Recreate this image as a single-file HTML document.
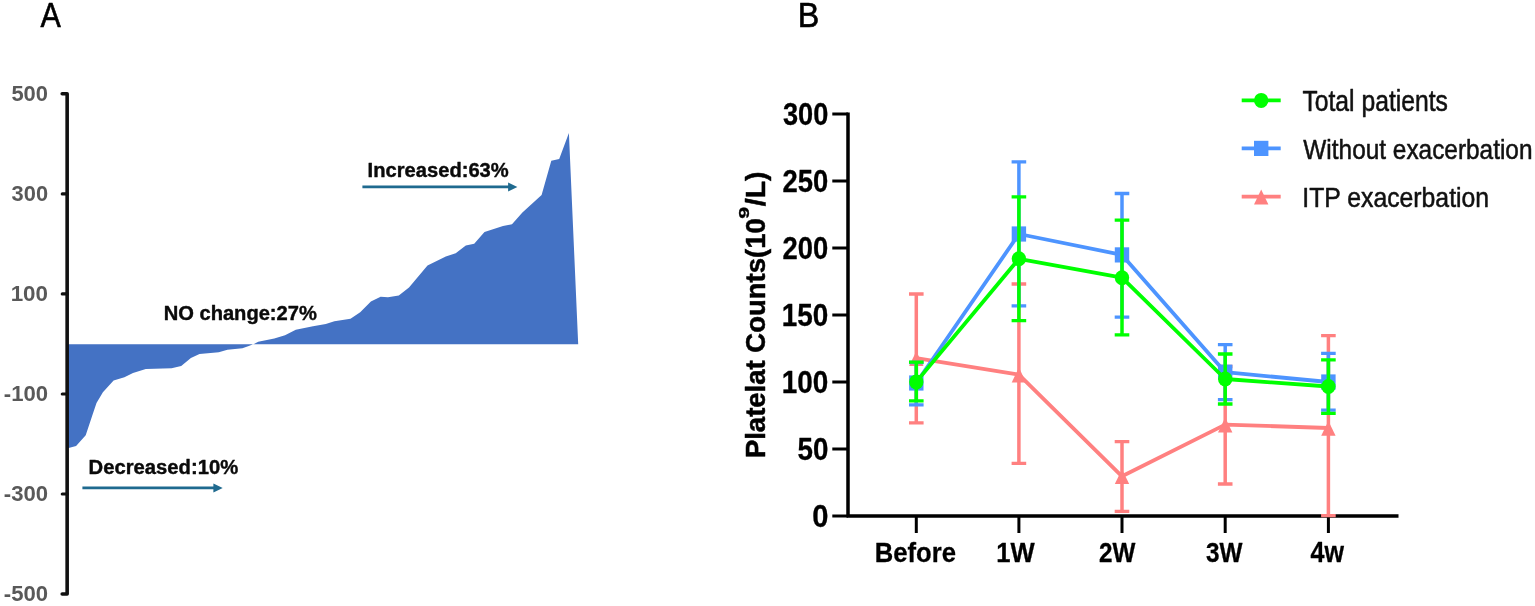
<!DOCTYPE html>
<html><head><meta charset="utf-8"><title>Figure</title>
<style>
html,body{margin:0;padding:0;background:#fff;}
svg{display:block;filter:blur(0.5px);}
text{font-family:"Liberation Sans",sans-serif;}
</style></head>
<body>
<svg width="1535" height="606" viewBox="0 0 1535 606">
<rect width="1535" height="606" fill="#ffffff"/>
<g id="panelA">
<path d="M67.0,344.2 L67.0,448.3 L68.6,448.0 L76.1,445.9 L85.7,435.2 L92.2,415.8 L96.5,403.0 L102.9,392.2 L113.6,380.4 L124.4,377.2 L133.0,372.9 L145.8,369.0 L171.6,368.2 L181.2,366.0 L190.9,357.9 L199.5,354.0 L218.8,352.3 L227.4,349.7 L242.4,348.2 L248.8,346.1 L253.0,344.2 L254.0,344.0 L258.2,341.8 L274.3,338.4 L285.0,335.2 L295.8,329.8 L313.0,326.2 L325.8,324.0 L334.4,321.2 L350.5,318.7 L360.2,312.2 L370.9,301.5 L380.6,296.8 L388.0,297.2 L398.8,295.5 L409.0,287.5 L427.5,265.4 L445.8,256.4 L455.7,253.2 L465.8,245.6 L474.2,243.8 L484.5,232.0 L503.0,226.1 L512.0,224.2 L522.4,212.4 L541.6,195.1 L551.3,160.8 L559.2,159.0 L568.9,132.9 L578.2,344.2 L67.0,344.2Z" fill="#4472c4"/>
<path d="M62.2,93.8 L67.15,93.8 L67.15,594.0 L62.2,594.0" fill="none" stroke="#111" stroke-width="3.6" stroke-linejoin="round" stroke-linecap="round"/>
<line x1="62.3" y1="193.9" x2="67.15" y2="193.9" stroke="#111" stroke-width="3.2" stroke-linecap="round"/>
<line x1="62.3" y1="293.9" x2="67.15" y2="293.9" stroke="#111" stroke-width="3.2" stroke-linecap="round"/>
<line x1="62.3" y1="394.0" x2="67.15" y2="394.0" stroke="#111" stroke-width="3.2" stroke-linecap="round"/>
<line x1="62.3" y1="494.0" x2="67.15" y2="494.0" stroke="#111" stroke-width="3.2" stroke-linecap="round"/>
<text transform="matrix(0.2196,0,0,0.2246,11.39,101.02)" font-size="100" font-weight="bold" fill="#595959">500</text>
<text transform="matrix(0.2186,0,0,0.2246,11.57,201.13)" font-size="100" font-weight="bold" fill="#595959">300</text>
<text transform="matrix(0.2241,0,0,0.2246,10.66,301.12)" font-size="100" font-weight="bold" fill="#595959">100</text>
<text transform="matrix(0.2211,0,0,0.2246,3.79,401.23)" font-size="100" font-weight="bold" fill="#595959">-100</text>
<text transform="matrix(0.2211,0,0,0.2246,3.79,501.23)" font-size="100" font-weight="bold" fill="#595959">-300</text>
<text transform="matrix(0.2211,0,0,0.2246,3.79,601.22)" font-size="100" font-weight="bold" fill="#595959">-500</text>
<text transform="matrix(0.2013,0,0,0.1948,163.67,320.10)" font-size="100" font-weight="bold" fill="#0a0a0a" stroke="#0a0a0a" stroke-width="2.02" stroke-linejoin="round">NO change:27%</text>
<text transform="matrix(0.2017,0,0,0.2020,367.57,177.30)" font-size="100" font-weight="bold" fill="#0a0a0a" stroke="#0a0a0a" stroke-width="1.98" stroke-linejoin="round">Increased:63%</text>
<text transform="matrix(0.2024,0,0,0.1933,88.56,474.40)" font-size="100" font-weight="bold" fill="#0a0a0a" stroke="#0a0a0a" stroke-width="2.02" stroke-linejoin="round">Decreased:10%</text>
<line x1="362.4" y1="186.9" x2="511.4" y2="186.9" stroke="#1f6a8f" stroke-width="2.6"/><path d="M508.09999999999997,182.4 L517.4,186.9 L508.09999999999997,191.4Z" fill="#1f6a8f"/>
<line x1="82.4" y1="487.9" x2="216.7" y2="487.9" stroke="#1f6a8f" stroke-width="2.6"/><path d="M213.39999999999998,483.4 L222.7,487.9 L213.39999999999998,492.4Z" fill="#1f6a8f"/>
<text transform="matrix(0.3047,0,0,0.3488,40.54,26.80)" font-size="100" font-weight="normal" fill="#000" stroke="#000" stroke-width="1.84" stroke-linejoin="round">A</text>
</g>
<g id="panelB">
<path d="M848.0,112.5 L848.0,516.0 M846.5,516.0 L1398.5,516.0" stroke="#000" stroke-width="3.5" fill="none"/>
<line x1="832.3" y1="516.0" x2="848.0" y2="516.0" stroke="#000" stroke-width="3"/>
<text transform="matrix(0.2914,0,0,0.3159,812.21,526.90)" font-size="100" font-weight="bold" fill="#000" stroke="#000" stroke-width="0.99" stroke-linejoin="round">0</text>
<line x1="832.3" y1="449.0" x2="848.0" y2="449.0" stroke="#000" stroke-width="3"/>
<text transform="matrix(0.2774,0,0,0.3159,797.52,459.90)" font-size="100" font-weight="bold" fill="#000" stroke="#000" stroke-width="1.01" stroke-linejoin="round">50</text>
<line x1="832.3" y1="382.0" x2="848.0" y2="382.0" stroke="#000" stroke-width="3"/>
<text transform="matrix(0.2791,0,0,0.3159,781.82,392.90)" font-size="100" font-weight="bold" fill="#000" stroke="#000" stroke-width="1.01" stroke-linejoin="round">100</text>
<line x1="832.3" y1="315.0" x2="848.0" y2="315.0" stroke="#000" stroke-width="3"/>
<text transform="matrix(0.2791,0,0,0.3159,781.82,325.90)" font-size="100" font-weight="bold" fill="#000" stroke="#000" stroke-width="1.01" stroke-linejoin="round">150</text>
<line x1="832.3" y1="248.0" x2="848.0" y2="248.0" stroke="#000" stroke-width="3"/>
<text transform="matrix(0.2742,0,0,0.3159,782.62,258.90)" font-size="100" font-weight="bold" fill="#000" stroke="#000" stroke-width="1.02" stroke-linejoin="round">200</text>
<line x1="832.3" y1="181.0" x2="848.0" y2="181.0" stroke="#000" stroke-width="3"/>
<text transform="matrix(0.2742,0,0,0.3159,782.62,191.90)" font-size="100" font-weight="bold" fill="#000" stroke="#000" stroke-width="1.02" stroke-linejoin="round">250</text>
<line x1="832.3" y1="114.0" x2="848.0" y2="114.0" stroke="#000" stroke-width="3"/>
<text transform="matrix(0.2721,0,0,0.3159,782.95,124.90)" font-size="100" font-weight="bold" fill="#000" stroke="#000" stroke-width="1.02" stroke-linejoin="round">300</text>
<line x1="916.3" y1="516.0" x2="916.3" y2="533" stroke="#000" stroke-width="3"/>
<text transform="matrix(0.2560,0,0,0.2856,874.86,562.40)" font-size="100" font-weight="bold" fill="#000" stroke="#000" stroke-width="1.11" stroke-linejoin="round">Before</text>
<line x1="1018.9" y1="516.0" x2="1018.9" y2="533" stroke="#000" stroke-width="3"/>
<text transform="matrix(0.2561,0,0,0.2856,996.16,562.40)" font-size="100" font-weight="bold" fill="#000" stroke="#000" stroke-width="1.11" stroke-linejoin="round">1W</text>
<line x1="1122.0" y1="516.0" x2="1122.0" y2="533" stroke="#000" stroke-width="3"/>
<text transform="matrix(0.2423,0,0,0.2815,1099.03,562.40)" font-size="100" font-weight="bold" fill="#000" stroke="#000" stroke-width="1.15" stroke-linejoin="round">2W</text>
<line x1="1225.2" y1="516.0" x2="1225.2" y2="533" stroke="#000" stroke-width="3"/>
<text transform="matrix(0.2431,0,0,0.2815,1206.02,562.40)" font-size="100" font-weight="bold" fill="#000" stroke="#000" stroke-width="1.14" stroke-linejoin="round">3W</text>
<line x1="1328.4" y1="516.0" x2="1328.4" y2="533" stroke="#000" stroke-width="3"/>
<text transform="matrix(0.2506,0,0,0.2856,1310.57,562.40)" font-size="100" font-weight="bold" fill="#000" stroke="#000" stroke-width="1.12" stroke-linejoin="round">4w</text>
<path d="M916.3,294.0 L916.3,422.8" stroke="#ff8080" stroke-width="3.5" fill="none"/><path d="M909.0,294.0 L923.5999999999999,294.0 M909.0,422.8 L923.5999999999999,422.8" stroke="#ff8080" stroke-width="3.3" fill="none"/>
<path d="M1018.9,284.0 L1018.9,463.4" stroke="#ff8080" stroke-width="3.5" fill="none"/><path d="M1011.6,284.0 L1026.2,284.0 M1011.6,463.4 L1026.2,463.4" stroke="#ff8080" stroke-width="3.3" fill="none"/>
<path d="M1122.0,441.6 L1122.0,511.4" stroke="#ff8080" stroke-width="3.5" fill="none"/><path d="M1114.7,441.6 L1129.3,441.6 M1114.7,511.4 L1129.3,511.4" stroke="#ff8080" stroke-width="3.3" fill="none"/>
<path d="M1225.2,366.5 L1225.2,484.0" stroke="#ff8080" stroke-width="3.5" fill="none"/><path d="M1217.9,366.5 L1232.5,366.5 M1217.9,484.0 L1232.5,484.0" stroke="#ff8080" stroke-width="3.3" fill="none"/>
<path d="M1328.4,335.7 L1328.4,515.6" stroke="#ff8080" stroke-width="3.5" fill="none"/><path d="M1321.1000000000001,335.7 L1335.7,335.7 M1321.1000000000001,515.6 L1335.7,515.6" stroke="#ff8080" stroke-width="3.3" fill="none"/>
<polyline points="916.3,358.2 1018.9,374.6 1122.0,476.3 1225.2,424.6 1328.4,428.0" fill="none" stroke="#ff8080" stroke-width="3.8" stroke-linejoin="round"/>
<path d="M916.3,351.2 L923.5,366.0 L909.1,366.0Z" fill="#ff8080"/>
<path d="M1018.9,367.6 L1026.1,382.4 L1011.7,382.4Z" fill="#ff8080"/>
<path d="M1122.0,469.3 L1129.2,484.1 L1114.8,484.1Z" fill="#ff8080"/>
<path d="M1225.2,417.6 L1232.4,432.4 L1218.0,432.4Z" fill="#ff8080"/>
<path d="M1328.4,421.0 L1335.6,435.8 L1321.2,435.8Z" fill="#ff8080"/>
<path d="M916.3,362.5 L916.3,404.9" stroke="#4d94ff" stroke-width="3.5" fill="none"/><path d="M909.0,362.5 L923.5999999999999,362.5 M909.0,404.9 L923.5999999999999,404.9" stroke="#4d94ff" stroke-width="3.3" fill="none"/>
<path d="M1018.9,161.8 L1018.9,305.9" stroke="#4d94ff" stroke-width="3.5" fill="none"/><path d="M1011.6,161.8 L1026.2,161.8 M1011.6,305.9 L1026.2,305.9" stroke="#4d94ff" stroke-width="3.3" fill="none"/>
<path d="M1122.0,193.5 L1122.0,317.2" stroke="#4d94ff" stroke-width="3.5" fill="none"/><path d="M1114.7,193.5 L1129.3,193.5 M1114.7,317.2 L1129.3,317.2" stroke="#4d94ff" stroke-width="3.3" fill="none"/>
<path d="M1225.2,344.7 L1225.2,399.7" stroke="#4d94ff" stroke-width="3.5" fill="none"/><path d="M1217.9,344.7 L1232.5,344.7 M1217.9,399.7 L1232.5,399.7" stroke="#4d94ff" stroke-width="3.3" fill="none"/>
<path d="M1328.4,353.3 L1328.4,410.1" stroke="#4d94ff" stroke-width="3.5" fill="none"/><path d="M1321.1000000000001,353.3 L1335.7,353.3 M1321.1000000000001,410.1 L1335.7,410.1" stroke="#4d94ff" stroke-width="3.3" fill="none"/>
<polyline points="916.3,383.0 1018.9,234.0 1122.0,254.9 1225.2,372.2 1328.4,382.0" fill="none" stroke="#4d94ff" stroke-width="3.8" stroke-linejoin="round"/>
<rect x="909.1" y="375.4" width="14.4" height="15.2" fill="#4d94ff"/>
<rect x="1011.7" y="226.4" width="14.4" height="15.2" fill="#4d94ff"/>
<rect x="1114.8" y="247.3" width="14.4" height="15.2" fill="#4d94ff"/>
<rect x="1218.0" y="364.6" width="14.4" height="15.2" fill="#4d94ff"/>
<rect x="1321.2" y="374.4" width="14.4" height="15.2" fill="#4d94ff"/>
<path d="M916.3,362.1 L916.3,400.8" stroke="#00ff00" stroke-width="3.5" fill="none"/><path d="M909.0,362.1 L923.5999999999999,362.1 M909.0,400.8 L923.5999999999999,400.8" stroke="#00ff00" stroke-width="3.3" fill="none"/>
<path d="M1018.9,196.9 L1018.9,320.7" stroke="#00ff00" stroke-width="3.5" fill="none"/><path d="M1011.6,196.9 L1026.2,196.9 M1011.6,320.7 L1026.2,320.7" stroke="#00ff00" stroke-width="3.3" fill="none"/>
<path d="M1122.0,220.2 L1122.0,334.9" stroke="#00ff00" stroke-width="3.5" fill="none"/><path d="M1114.7,220.2 L1129.3,220.2 M1114.7,334.9 L1129.3,334.9" stroke="#00ff00" stroke-width="3.3" fill="none"/>
<path d="M1225.2,354.0 L1225.2,404.0" stroke="#00ff00" stroke-width="3.5" fill="none"/><path d="M1217.9,354.0 L1232.5,354.0 M1217.9,404.0 L1232.5,404.0" stroke="#00ff00" stroke-width="3.3" fill="none"/>
<path d="M1328.4,359.9 L1328.4,413.3" stroke="#00ff00" stroke-width="3.5" fill="none"/><path d="M1321.1000000000001,359.9 L1335.7,359.9 M1321.1000000000001,413.3 L1335.7,413.3" stroke="#00ff00" stroke-width="3.3" fill="none"/>
<polyline points="916.3,381.9 1018.9,258.8 1122.0,277.7 1225.2,379.0 1328.4,386.5" fill="none" stroke="#00ff00" stroke-width="3.8" stroke-linejoin="round"/>
<ellipse cx="916.3" cy="381.9" rx="7.2" ry="7.5" fill="#00ff00"/>
<ellipse cx="1018.9" cy="258.8" rx="7.2" ry="7.5" fill="#00ff00"/>
<ellipse cx="1122.0" cy="277.7" rx="7.2" ry="7.5" fill="#00ff00"/>
<ellipse cx="1225.2" cy="379.0" rx="7.2" ry="7.5" fill="#00ff00"/>
<ellipse cx="1328.4" cy="386.5" rx="7.2" ry="7.5" fill="#00ff00"/>
<text transform="translate(764.50,458.12) rotate(-90) scale(0.2751,0.2674)" font-size="100" font-weight="bold" fill="#000" stroke="#000" stroke-width="1.84" stroke-linejoin="round">Platelat Counts(10</text>
<text transform="translate(748.60,218.73) rotate(-90) scale(0.2140,0.1533)" font-size="100" font-weight="bold" fill="#000" stroke="#000" stroke-width="2.18" stroke-linejoin="round">9</text>
<text transform="translate(764.50,206.26) rotate(-90) scale(0.2844,0.2674)" font-size="100" font-weight="bold" fill="#000" stroke="#000" stroke-width="1.81" stroke-linejoin="round">/L)</text>
<line x1="1241.7" y1="100.4" x2="1280.7" y2="100.4" stroke="#00ff00" stroke-width="3.6"/>
<ellipse cx="1261.2" cy="100.4" rx="7.2" ry="7.5" fill="#00ff00"/>
<text transform="matrix(0.2471,0,0,0.2892,1302.41,110.65)" font-size="100" font-weight="normal" fill="#111" stroke="#111" stroke-width="1.86" stroke-linejoin="round">Total patients</text>
<line x1="1241.7" y1="148.4" x2="1280.7" y2="148.4" stroke="#4d94ff" stroke-width="3.6"/>
<rect x="1254.0" y="140.8" width="14.4" height="15.2" fill="#4d94ff"/>
<text transform="matrix(0.2440,0,0,0.2791,1303.35,158.65)" font-size="100" font-weight="normal" fill="#111" stroke="#111" stroke-width="1.91" stroke-linejoin="round">Without exacerbation</text>
<line x1="1241.7" y1="196.6" x2="1280.7" y2="196.6" stroke="#ff8080" stroke-width="3.6"/>
<path d="M1261.2,189.6 L1268.4,204.4 L1254.0,204.4Z" fill="#ff8080"/>
<text transform="matrix(0.2479,0,0,0.2791,1302.27,206.95)" font-size="100" font-weight="normal" fill="#111" stroke="#111" stroke-width="1.90" stroke-linejoin="round">ITP exacerbation</text>
<text transform="matrix(0.3227,0,0,0.3445,797.85,26.80)" font-size="100" font-weight="normal" fill="#000" stroke="#000" stroke-width="1.80" stroke-linejoin="round">B</text>
</g>
</svg>
</body></html>
